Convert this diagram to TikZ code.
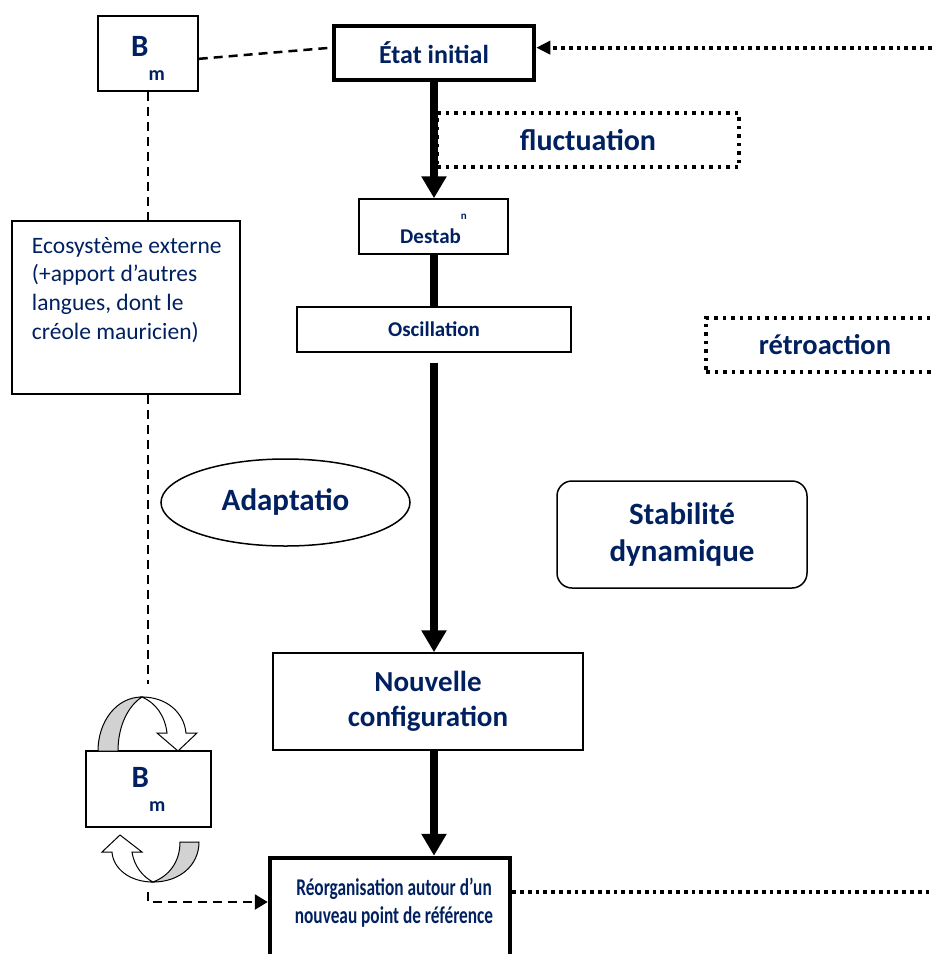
\documentclass[tikz,border=0pt]{standalone}
\usepackage{fontspec}
\setmainfont{Carlito}
\usepackage{graphicx}
\usepackage{tikz}
\usetikzlibrary{shapes.geometric, arrows.meta}
\definecolor{navy}{RGB}{0,32,96}

\begin{document}
\begin{tikzpicture}[x=1pt, y=-1pt,
  box/.style = {draw, line width=1.5pt, inner sep=0pt, text=navy, font=\bfseries},
  thickbox/.style = {box, line width=4.5pt},
  dotbox/.style = {box, line width=3.5pt, dash pattern=on 3.5pt off 5pt},
  oval/.style = {ellipse, box},
  bigline/.style = {line width=8pt},
  bigarrow/.style = {bigline, -{Triangle[length=22pt,width=24pt]}},
  dashline/.style = {line width=2.5pt, dash pattern=on 9pt off 6pt},
  dotline/.style = {line width=3.8pt, dash pattern=on 3.8pt off 4pt},
  twist/.style = {line width=1pt}
]
 \useasboundingbox (0,0) rectangle (932,954);
 \clip (0,0) rectangle (932,954);
 \node[box, minimum width=100pt, minimum height=75pt, text height=29pt, text depth=24pt,
   font=\fontsize{31pt}{33pt}\selectfont\bfseries] (bm1) at (148,53.5)
   {B\raisebox{-24pt}{\fontsize{20pt}{22pt}\selectfont m}};
 \node[thickbox, minimum width=200pt, minimum height=54pt,
   font=\fontsize{26pt}{30pt}\selectfont\bfseries] (etat) at (434,53) {État initial};
 \node[dotbox, minimum width=302pt, minimum height=54pt,
   font=\fontsize{30pt}{34pt}\selectfont\bfseries] (fluc) at (588,140) {fluctuation};
 \node[box, minimum width=149pt, minimum height=55pt, text height=33pt, text depth=0pt,
   font=\fontsize{21pt}{24pt}\selectfont\bfseries] (dest) at (433.5,226.5)
   {Destab\raisebox{24pt}{\fontsize{11pt}{12pt}\selectfont n}};
 \node[box, minimum width=274pt, minimum height=45pt,
   font=\fontsize{21pt}{24pt}\selectfont\bfseries] (osc) at (434,329.5) {Oscillation};
 \node[box, minimum width=228pt,
   font=\fontsize{23.5pt}{28.7pt}\selectfont] (eco) at (126,307.5)
   {\parbox[c][173pt][t]{228pt}{\raggedright\leftskip=20pt\rule{0pt}{32pt}Ecosystème externe\\(+apport d’autres\\langues, dont le\\créole mauricien)}};
 \node[oval, minimum width=249pt, minimum height=87pt,
   font=\fontsize{31pt}{35pt}\selectfont\bfseries] (adap) at (285.5,502.5) {Adaptatio};
 \node[dotbox, minimum width=238pt, minimum height=54pt,
   font=\fontsize{28.5pt}{32pt}\selectfont\bfseries] (retro) at (825,345) {rétroaction};
 \node[box, rounded corners=15pt, minimum width=250pt, minimum height=107pt, align=center,
   font=\fontsize{31pt}{37pt}\selectfont\bfseries] (stab) at (682,534.5) {Stabilité\\dynamique};
 \node[box, minimum width=310pt, minimum height=97pt, align=center,
   font=\fontsize{29pt}{35pt}\selectfont\bfseries] (nouv) at (428,701.5) {Nouvelle\\configuration};
 \node[box, minimum width=125pt, minimum height=76pt, text height=20pt, text depth=24pt,
   font=\fontsize{31pt}{33pt}\selectfont\bfseries] (bm2) at (148.5,789)
   {B\raisebox{-24pt}{\fontsize{20pt}{22pt}\selectfont m}};
 \node[thickbox, minimum width=240pt,
   font=\fontsize{24pt}{28pt}\selectfont\bfseries] (reorg) at (390,918)
   {\parbox[c][120pt][t]{240pt}{\centering\leftskip=8pt plus 1fil\rule{0pt}{37pt}\scalebox{0.72}[1]{Réorganisation autour d’un}\\\scalebox{0.72}[1]{nouveau point de référence}}};
 \coordinate (d1) at (148,684);
 \coordinate (d2) at (148,892);
 \coordinate (fb) at (990,892);

 \draw[twist, fill=gray!35] (98,751) .. controls (98,722) and (116,697) .. (142,697)
   .. controls (128,706) and (118,726) .. (118,751) -- cycle;
 \draw[twist, fill=white] (142,697) .. controls (166,697) and (184,712) .. (186,733)
   -- (197,733) -- (178,751) -- (157,733) -- (167,733)
   .. controls (165,716) and (156,703) .. (142,697) -- cycle;
 \draw[twist, fill=gray!35] (153,882) .. controls (180,882) and (199,865) .. (199,842)
   -- (180,842) .. controls (180,862) and (169,876) .. (153,882) -- cycle;
 \draw[twist, fill=white] (153,882) .. controls (129,882) and (113,868) .. (112,852)
   -- (102,852) -- (120,835) -- (142,852) -- (132,852)
   .. controls (134,866) and (143,877) .. (153,882) -- cycle;

 \begin{scope}[dashline]
  \draw (bm1.-6) -- (etat.177);
  \draw (bm1.south) -- (bm1.south |- eco.north);
  \draw (eco.south -| bm1.south) -- (d1);
  \draw[-{Triangle[length=13pt,width=15pt]}] (d2) |- ([yshift=16pt]reorg.west);
 \end{scope}
 \draw[bigarrow] (etat.south) -- (etat.south |- dest.north);
 \draw[bigline] (dest.south) -- (dest.south |- osc.north);
 \draw[bigarrow] ([yshift=-10pt]osc.south) -- (osc.south |- nouv.north);
 \draw[bigarrow] (osc.south |- nouv.south) -- (osc.south |- reorg.north);
 \draw[dotline, -{Triangle[length=14pt,width=13pt]}] ([yshift=26pt]reorg.east) -- (fb) |- (etat.3);
\end{tikzpicture}
\end{document}
